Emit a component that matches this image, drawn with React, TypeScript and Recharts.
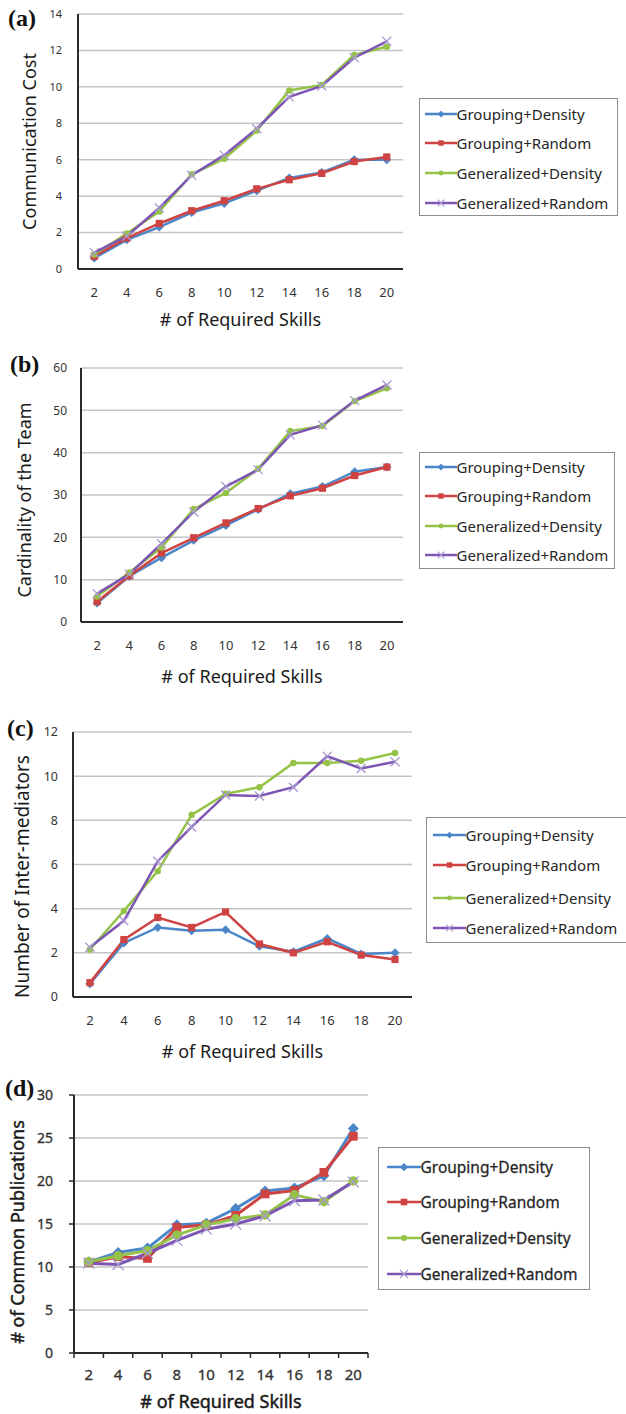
import React from 'react';
import { LineChart, Line, XAxis, YAxis, CartesianGrid, Legend, Label } from 'recharts';

// x categories shared by all four panels
const skills = [2, 4, 6, 8, 10, 12, 14, 16, 18, 20];

const seriesNames = ['Grouping+Density', 'Grouping+Random', 'Generalized+Density', 'Generalized+Random'];
const seriesKeys = ['gd', 'gr', 'gend', 'genr'];
const colors = ['#4a86c8', '#cf4343', '#94c347', '#7d55b3'];
const markers = ['diamond', 'square', 'circle', 'cross'];

// (a) communication cost
const commGD = [0.6, 1.6, 2.3, 3.1, 3.6, 4.3, 5.0, 5.3, 6.0, 6.0];
const commGR = [0.7, 1.7, 2.5, 3.2, 3.75, 4.4, 4.9, 5.25, 5.9, 6.15];
const commGenD = [0.8, 1.95, 3.15, 5.2, 6.05, 7.6, 9.8, 10.1, 11.75, 12.2];
const commGenR = [0.9, 1.8, 3.35, 5.15, 6.25, 7.7, 9.45, 10.05, 11.6, 12.5];
const commTicks = [0, 2, 4, 6, 8, 10, 12, 14];

// (b) cardinality of the team
const cardGD = [4.5, 10.8, 15.2, 19.3, 22.8, 26.6, 30.3, 32, 35.5, 36.6];
const cardGR = [4.8, 10.9, 16.3, 19.9, 23.4, 26.8, 29.8, 31.6, 34.6, 36.6];
const cardGenD = [6, 11.7, 17.6, 26.7, 30.5, 36.2, 45.1, 46.3, 52.2, 55.2];
const cardGenR = [6.7, 11.3, 18.5, 26, 32, 36, 44.2, 46.5, 52.3, 56];
const cardTicks = [0, 10, 20, 30, 40, 50, 60];

// (c) number of inter-mediators
const interGD = [0.6, 2.45, 3.15, 3.0, 3.05, 2.3, 2.05, 2.65, 1.95, 2.0];
const interGR = [0.65, 2.6, 3.6, 3.15, 3.85, 2.4, 2.0, 2.5, 1.9, 1.7];
const interGenD = [2.15, 3.9, 5.7, 8.25, 9.2, 9.5, 10.6, 10.6, 10.7, 11.05];
const interGenR = [2.25, 3.45, 6.15, 7.7, 9.15, 9.1, 9.5, 10.9, 10.35, 10.65];
const interTicks = [0, 2, 4, 6, 8, 10, 12];

// (d) number of common publications
const pubGD = [10.6, 11.7, 12.2, 14.9, 15.1, 16.8, 18.85, 19.2, 20.6, 26.1];
const pubGR = [10.5, 11.2, 11.0, 14.6, 14.9, 16.0, 18.5, 18.9, 21.0, 25.2];
const pubGenD = [10.6, 11.3, 11.9, 13.7, 14.9, 15.6, 16.05, 18.4, 17.6, 20.0];
const pubGenR = [10.45, 10.3, 11.6, 13.1, 14.4, 15.0, 15.95, 17.7, 17.8, 19.9];
const pubTicks = [0, 5, 10, 15, 20, 25, 30];

const FONT = '"Noto Sans", "DejaVu Sans", sans-serif';

function buildRows(values: number[][]) {
  return skills.map((s, i) => {
    const row: any = { skill: s };
    seriesKeys.forEach((k, j) => (row[k] = values[j][i]));
    return row;
  });
}

function Marker({ kind, cx, cy, color, size }: any) {
  if (cx == null || cy == null) return null;
  const s = size;
  if (kind === 'diamond') {
    return <polygon points={`${cx},${cy - s} ${cx + s},${cy} ${cx},${cy + s} ${cx - s},${cy}`} fill={color} />;
  }
  if (kind === 'square') {
    return <rect x={cx - s * 0.8} y={cy - s * 0.8} width={s * 1.6} height={s * 1.6} fill={color} />;
  }
  if (kind === 'circle') {
    return <circle cx={cx} cy={cy} r={s * 0.72} fill={color} />;
  }
  return (
    <g stroke="#a898d2" strokeWidth={1.3}>
      <line x1={cx - s} y1={cy - s} x2={cx + s} y2={cy + s} />
      <line x1={cx - s} y1={cy + s} x2={cx + s} y2={cy - s} />
    </g>
  );
}

const panels = [
  {
    tag: '(a)', tagPos: { left: 8, top: 6 },
    top: 0, height: 345,
    plot: { left: 78, right: 403, top: 14, bottom: 269 },
    values: [commGD, commGR, commGenD, commGenR], ticks: commTicks,
    yTitle: 'Communication Cost', yTitleX: 30, yTitleShift: 0, yTitleSize: 18,
    xTitleDy: 51, yTickSize: 11, yTickGap: 16, xTickSize: 13, xTickGap: 19,
    markerSize: 4.5, lineWidth: 2.5, boundaryTicks: false, heavy: 0,
    legend: { left: 419, top: 98, width: 199, height: 118, rows: [15, 44, 74, 104], iconLeft: 6, iconWidth: 32, fontSize: 15 },
  },
  {
    tag: '(b)', tagPos: { left: 10, top: 352 },
    top: 345, height: 355,
    plot: { left: 81, right: 403, top: 368, bottom: 622 },
    values: [cardGD, cardGR, cardGenD, cardGenR], ticks: cardTicks,
    yTitle: 'Cardinality of the Team', yTitleX: 25, yTitleShift: 5, yTitleSize: 18,
    xTitleDy: 55, yTickSize: 12, yTickGap: 14, xTickSize: 13, xTickGap: 18.5,
    markerSize: 4.5, lineWidth: 2.5, boundaryTicks: false, heavy: 0,
    legend: { left: 419, top: 452, width: 196, height: 117, rows: [14, 43, 73, 102], iconLeft: 6, iconWidth: 32, fontSize: 15 },
  },
  {
    tag: '(c)', tagPos: { left: 7, top: 716 },
    top: 700, height: 370,
    plot: { left: 73, right: 412, top: 732, bottom: 997 },
    values: [interGD, interGR, interGenD, interGenR], ticks: interTicks,
    yTitle: 'Number of Inter-mediators', yTitleX: 22, yTitleShift: 12, yTitleSize: 19,
    xTitleDy: 55, yTickSize: 12.5, yTickGap: 15, xTickSize: 13, xTickGap: 19,
    markerSize: 4.5, lineWidth: 2.5, boundaryTicks: false, heavy: 0,
    legend: { left: 426, top: 817, width: 210, height: 126, rows: [17, 47, 80, 110], iconLeft: 7, iconWidth: 33, fontSize: 15 },
  },
  {
    tag: '(d)', tagPos: { left: 5, top: 1076 },
    top: 1070, height: 344,
    plot: { left: 74, right: 368, top: 1095, bottom: 1353 },
    values: [pubGD, pubGR, pubGenD, pubGenR], ticks: pubTicks,
    yTitle: '# of Common Publications', yTitleX: 18, yTitleShift: 8, yTitleSize: 18,
    xTitleDy: 49, yTickSize: 14, yTickGap: 16, xTickSize: 15, xTickGap: 16.7,
    markerSize: 5.5, lineWidth: 3, boundaryTicks: true, heavy: 0.45,
    legend: { left: 378, top: 1147, width: 212, height: 143, rows: [19, 54, 90, 126], iconLeft: 9, iconWidth: 34, fontSize: 15.5 },
  },
];

function makeLegend(cfg: any, markerSize: number, heavy: number) {
  return (props: any) => {
    const items = (props.payload || []).slice().sort(
      (a: any, b: any) => seriesKeys.indexOf(a.dataKey) - seriesKeys.indexOf(b.dataKey),
    );
    return (
      <div
        style={{
          position: 'relative', width: cfg.width, height: cfg.height,
          border: '1.5px solid #8c8c8c', boxSizing: 'border-box', background: '#fff',
          fontFamily: FONT,
        }}
      >
        {items.map((it: any, i: number) => {
          const idx = seriesKeys.indexOf(it.dataKey);
          return (
            <div
              key={it.value}
              style={{
                position: 'absolute', left: cfg.iconLeft - 1.5, top: cfg.rows[i] - 11, height: 22,
                display: 'flex', alignItems: 'center', whiteSpace: 'nowrap',
                fontSize: cfg.fontSize, color: '#262626',
                WebkitTextStroke: heavy ? `${heavy * 0.6}px #262626` : undefined,
              }}
            >
              <svg width={cfg.iconWidth} height={14} style={{ display: 'block' }}>
                <line x1={0} y1={7} x2={cfg.iconWidth} y2={7} stroke={colors[idx]} strokeWidth={2.5} />
                <Marker kind={markers[idx]} cx={cfg.iconWidth / 2} cy={7} color={colors[idx]} size={markerSize * 0.75} />
              </svg>
              <span>{seriesNames[idx]}</span>
            </div>
          );
        })}
      </div>
    );
  };
}

function Panel({ p }: { p: any }) {
  const width = 626;
  const plotTop = p.plot.top - p.top;
  const plotBottom = p.plot.bottom - p.top;
  const plotW = p.plot.right - p.plot.left;
  const half = plotW / 20;
  const yAxisW = 60;
  const xAxisH = 50;
  const rows = buildRows(p.values);
  const yMax = p.ticks[p.ticks.length - 1];
  const midY = (plotTop + plotBottom) / 2;
  const textStroke = p.heavy ? { stroke: '#1a1a1a', strokeWidth: p.heavy } : {};

  const xTick = (props: any) => {
    const { x, y, payload, index } = props;
    const axisY = y - p.xTickGap;
    return (
      <g>
        {p.boundaryTicks && (
          <line x1={x - half} y1={axisY} x2={x - half} y2={axisY + 5} stroke="#2b2b2b" strokeWidth={1.5} />
        )}
        {p.boundaryTicks && index === skills.length - 1 && (
          <line x1={x + half} y1={axisY} x2={x + half} y2={axisY + 5} stroke="#2b2b2b" strokeWidth={1.5} />
        )}
        <text
          x={x} y={y} dy="0.71em" textAnchor="middle" fontSize={p.xTickSize} fill="#333" fontFamily={FONT}
          {...(p.heavy ? { stroke: '#333', strokeWidth: p.heavy * 0.7 } : {})}
        >
          {payload.value}
        </text>
      </g>
    );
  };

  return (
    <div style={{ position: 'absolute', left: 0, top: p.top, width, height: p.height }}>
      <LineChart
        width={width}
        height={p.height}
        data={rows}
        margin={{
          top: plotTop,
          left: p.plot.left - yAxisW,
          right: width - p.plot.right,
          bottom: p.height - plotBottom - xAxisH,
        }}
      >
        <CartesianGrid vertical={false} stroke="#c4c4c4" strokeWidth={1.5} />
        <XAxis
          dataKey="skill"
          type="category"
          interval={0}
          height={xAxisH}
          padding={{ left: half, right: half }}
          axisLine={{ stroke: '#2b2b2b', strokeWidth: 2 }}
          tickLine={false}
          tickSize={0}
          tickMargin={p.xTickGap}
          tick={xTick}
        >
          <Label
            content={() => (
              <text
                x={(p.plot.left + p.plot.right) / 2}
                y={plotBottom + p.xTitleDy}
                dy="0.35em"
                textAnchor="middle"
                fontSize={18}
                fill="#1a1a1a"
                fontFamily={FONT}
                {...textStroke}
              >
                # of Required Skills
              </text>
            )}
          />
        </XAxis>
        <YAxis
          type="number"
          width={yAxisW}
          domain={[0, yMax]}
          ticks={p.ticks}
          interval={0}
          axisLine={{ stroke: '#2b2b2b', strokeWidth: 2 }}
          tickLine={p.boundaryTicks ? { stroke: '#2b2b2b', strokeWidth: 1.5 } : false}
          tickSize={p.boundaryTicks ? 5 : 0}
          tickMargin={p.yTickGap}
          tick={{
            fontSize: p.yTickSize, fill: '#333', fontFamily: FONT,
            ...(p.heavy ? { stroke: '#333', strokeWidth: p.heavy * 0.7 } : {}),
          }}
        >
          <Label
            content={() => (
              <text
                x={p.yTitleX}
                y={midY + p.yTitleShift}
                dy="0.35em"
                textAnchor="middle"
                fontSize={p.yTitleSize}
                fill="#1a1a1a"
                fontFamily={FONT}
                transform={`rotate(-90, ${p.yTitleX}, ${midY + p.yTitleShift})`}
                {...textStroke}
              >
                {p.yTitle}
              </text>
            )}
          />
        </YAxis>
        {seriesKeys.map((k, i) => (
          <Line
            key={k}
            type="linear"
            dataKey={k}
            name={seriesNames[i]}
            stroke={colors[i]}
            strokeWidth={p.lineWidth}
            isAnimationActive={false}
            activeDot={false}
            dot={(d: any) => (
              <Marker
                key={`${k}-${d.index}`}
                kind={markers[i]}
                cx={d.cx}
                cy={d.cy}
                color={colors[i]}
                size={markers[i] === 'circle' && p.boundaryTicks ? p.markerSize * 1.2 : p.markerSize}
              />
            )}
          />
        ))}
        <Legend
          layout="vertical"
          align="center"
          verticalAlign="middle"
          wrapperStyle={{
            left: p.legend.left,
            top: p.legend.top - p.top,
            width: p.legend.width,
            height: p.legend.height,
          }}
          content={makeLegend(p.legend, p.markerSize, p.heavy)}
        />
      </LineChart>
      <div
        style={{
          position: 'absolute',
          left: p.tagPos.left,
          top: p.tagPos.top - p.top,
          fontFamily: '"Liberation Serif", "DejaVu Serif", serif',
          fontWeight: 'bold',
          fontSize: 24,
          lineHeight: 1,
          color: '#111',
        }}
      >
        {p.tag}
      </div>
    </div>
  );
}

export default function App() {
  return (
    <div
      style={{
        position: 'absolute', left: 0, top: 0, width: 626, height: 1414,
        background: '#fff', overflow: 'hidden',
      }}
    >
      {panels.map((p) => (
        <Panel key={p.tag} p={p} />
      ))}
    </div>
  );
}
